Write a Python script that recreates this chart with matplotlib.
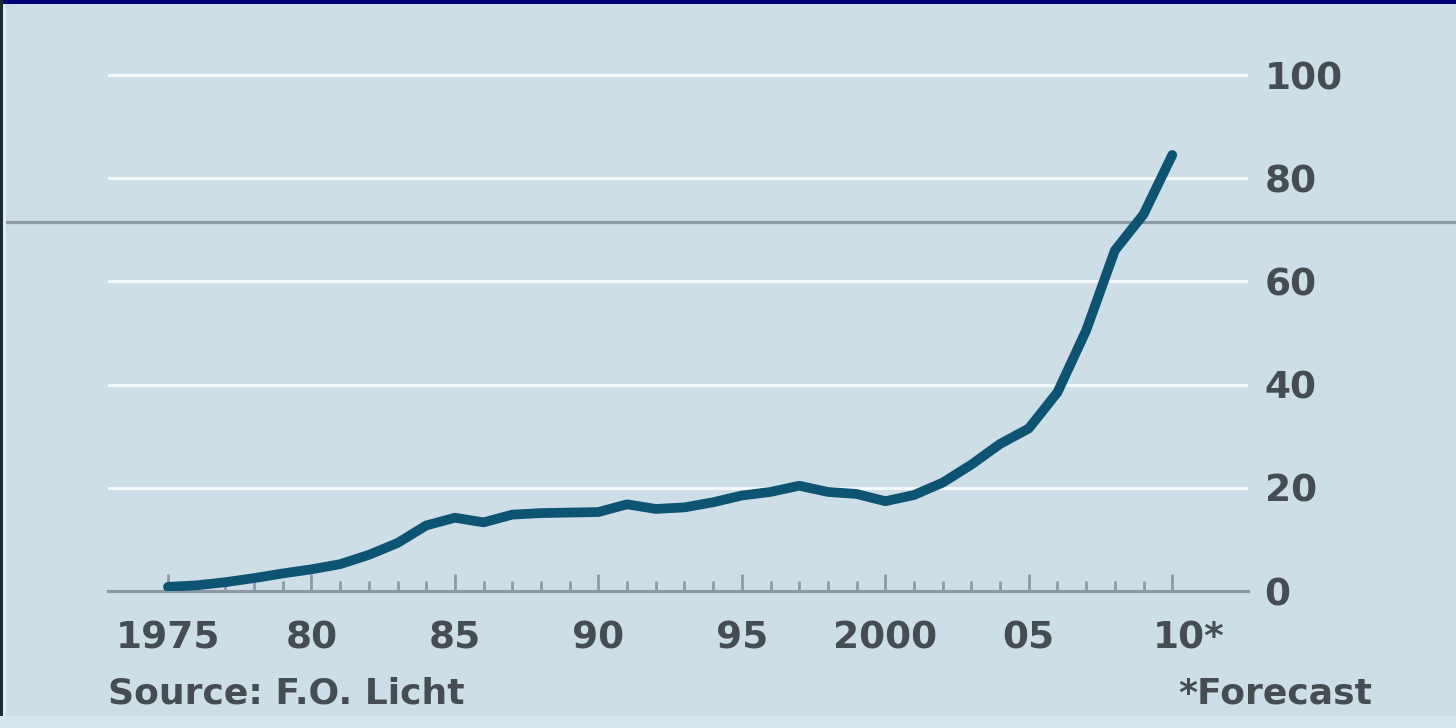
import matplotlib
matplotlib.use("Agg")
import matplotlib.pyplot as plt
from matplotlib.patches import Rectangle
from matplotlib.lines import Line2D
from matplotlib.transforms import ScaledTranslation

# producao mundial de etanol, bilhoes de litros
anos = list(range(1975, 2011))
producao = [0.8, 1.1, 1.7, 2.5, 3.4, 4.2, 5.2, 7.0, 9.3, 12.7,
            14.2, 13.3, 14.8, 15.1, 15.2, 15.3, 16.8, 15.9, 16.2, 17.2,
            18.5, 19.2, 20.4, 19.2, 18.8, 17.4, 18.6, 21.0, 24.5, 28.5,
            31.5, 38.5, 50.5, 66.0, 73.0, 84.5]

ticks_x = [1975, 1980, 1985, 1990, 1995, 2000, 2005, 2010]
rotulos_x = ["1975", "80", "85", "90", "95", "2000", "05", "10*"]
ticks_y = [0, 20, 40, 60, 80, 100]

fundo = "#cedee7"
cinza = "#8c9aa5"
texto = "#454d52"
linha = "#0d5472"

W, H = 1456, 728
fig = plt.figure(figsize=(W / 100, H / 100), dpi=100, facecolor=fundo)
ax = fig.add_axes([108 / W, (H - 591) / H, 1140 / W, (591 - 70) / H])
ax.set_facecolor("none")

ax.plot(anos, producao, color=linha, lw=7, solid_capstyle="round",
        solid_joinstyle="round", zorder=3)

ax.set_xlim(1972.91, 2012.64)
ax.set_ylim(0, 100 * (591 - 70) / (591 - 75))

# grade branca
ax.set_axisbelow(True)
ax.yaxis.grid(True, color="#f3f8fb", lw=2.3)

for lado in ["top", "left", "right"]:
    ax.spines[lado].set_visible(False)
ax.spines["bottom"].set_color(cinza)
ax.spines["bottom"].set_linewidth(2.3)

ax.set_xticks(ticks_x)
ax.set_xticklabels(rotulos_x, fontweight="bold")
ax.set_xticks(anos, minor=True)
ax.tick_params(axis="x", which="major", direction="in", length=12, width=2,
               color=cinza, pad=21, labelsize=27, labelcolor=texto)
ax.tick_params(axis="x", which="minor", direction="in", length=7, width=2,
               color=cinza)
# o asterisco fica a direita do "10"
rot = ax.get_xticklabels()[-1]
rot.set_transform(rot.get_transform() + ScaledTranslation(16 / 100, 0, fig.dpi_scale_trans))

ax.yaxis.tick_right()
ax.set_yticks(ticks_y)
ax.set_yticklabels([str(v) for v in ticks_y], fontweight="bold")
ax.tick_params(axis="y", length=0, pad=12, labelsize=27, labelcolor=texto)

# linha cinza horizontal atravessando a figura
ax.add_line(Line2D([0, 1], [1 - 222 / H, 1 - 222 / H], transform=fig.transFigure,
                   color=cinza, lw=2.3, clip_on=False, zorder=2))

fig.text(108 / W, 1 - 693 / H, "Source: F.O. Licht", ha="left", va="center",
         fontsize=26, fontweight="bold", color=texto)
fig.text(1372 / W, 1 - 693 / H, "*Forecast", ha="right", va="center",
         fontsize=26, fontweight="bold", color=texto)

# bordas
fig.add_artist(Rectangle((0, 1 - 4 / H), 1, 4 / H, transform=fig.transFigure,
                         color="#00007a", lw=0))
fig.add_artist(Rectangle((0, 0), 3 / W, 1, transform=fig.transFigure,
                         color="#1f2b33", lw=0))
fig.add_artist(Rectangle((3 / W, 0), 3 / W, 1 - 4 / H, transform=fig.transFigure,
                         color="#e0ebf2", lw=0))
fig.add_artist(Rectangle((0, 0), 1, 12 / H, transform=fig.transFigure,
                         color="#d6e4ed", lw=0))

fig.savefig("out.png", dpi=100, facecolor=fundo)
